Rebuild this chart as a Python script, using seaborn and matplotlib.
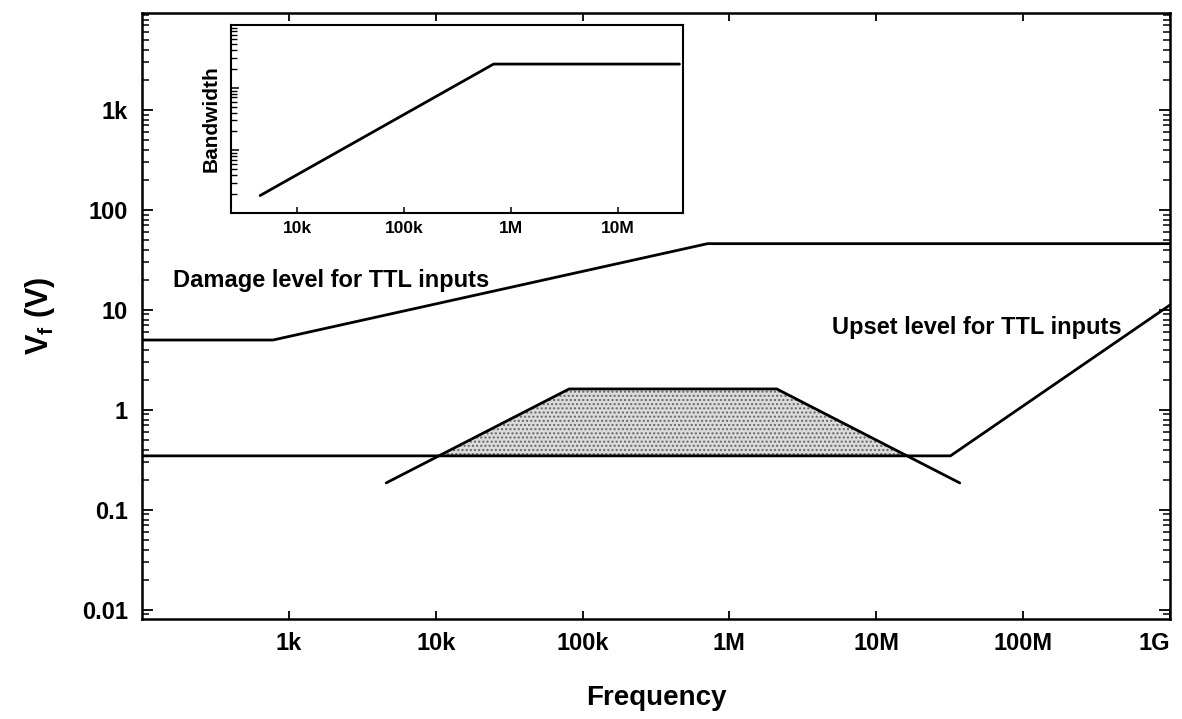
import numpy as np
import seaborn as sns
import matplotlib
matplotlib.use("Agg")
import matplotlib.pyplot as plt
from matplotlib.ticker import FixedLocator, FixedFormatter, LogLocator, NullFormatter, NullLocator

# data (Hz, V)
damage_f = [100, 780, 7.1e5, 1e9]
damage_v = [5.0, 5.0, 46, 46]
upset_f = [100, 3.2e7, 1e9]
upset_v = [0.347, 0.347, 11.2]
spec_f = [4.6e3, 8.1e4, 2.1e6, 3.7e7]
spec_v = [0.186, 1.62, 1.62, 0.186]

# inset: bandwidth vs frequency
bw_f = [4.5e3, 6.9e5, 3.8e7]
bw_v = [1.9, 238, 238]

xticks = [1e3, 1e4, 1e5, 1e6, 1e7, 1e8, 1e9]
xlabels = ["1k", "10k", "100k", "1M", "10M", "100M", "1G"]
yticks = [0.01, 0.1, 1, 10, 100, 1000]
ylabels = ["0.01", "0.1", "1", "10", "100", "1k"]
inset_xticks = [1e4, 1e5, 1e6, 1e7]
inset_xlabels = ["10k", "100k", "1M", "10M"]

sns.set_style("ticks")
plt.rcParams["font.family"] = ["Liberation Sans", "DejaVu Sans"]
plt.rcParams["font.weight"] = "bold"
plt.rcParams["mathtext.fontset"] = "custom"
plt.rcParams["mathtext.rm"] = "Liberation Sans:bold"
plt.rcParams["mathtext.it"] = "Liberation Sans:bold"
plt.rcParams["mathtext.bf"] = "Liberation Sans:bold"
plt.rcParams["hatch.linewidth"] = 1.0
for k in ["text.color", "axes.labelcolor", "xtick.color", "ytick.color", "axes.edgecolor"]:
    plt.rcParams[k] = "black"

W, H = 1182, 719
fig = plt.figure(figsize=(W / 100, H / 100), dpi=100)
ax = fig.add_axes([142 / W, 1 - 619 / H, (1170 - 142) / W, (619 - 13) / H])
ax.set_xscale("log")
ax.set_yscale("log")
ax.set_xlim(100, 1e9)
ax.set_ylim(0.0081, 9330)

# shaded part of the spectrum above the upset level (crossings in log space)
lf, lv = np.log10(spec_f), np.log10(spec_v)
lflat = np.log10(upset_v[0])
xl = 10 ** np.interp(lflat, lv[:2], lf[:2])
xr = 10 ** np.interp(lflat, lv[3:1:-1], lf[3:1:-1])
ax.fill([xl, spec_f[1], spec_f[2], xr], [upset_v[0], spec_v[1], spec_v[2], upset_v[0]],
        facecolor="0.86", edgecolor="0.4", hatch="....", linewidth=0, zorder=1)

for fx, vy in [(damage_f, damage_v), (upset_f, upset_v), (spec_f, spec_v)]:
    sns.lineplot(x=fx, y=vy, ax=ax, color="black", linewidth=2.0,
                 estimator=None, sort=False, zorder=3)

ax.text(173 / W, 1 - 281 / H, "Damage level for TTL inputs", transform=fig.transFigure,
        fontsize=17, fontweight="bold", va="center", ha="left")
ax.text(832 / W, 1 - 328 / H, "Upset level for TTL inputs", transform=fig.transFigure,
        fontsize=17, fontweight="bold", va="center", ha="left")

ax.xaxis.set_major_locator(FixedLocator(xticks))
ax.xaxis.set_major_formatter(FixedFormatter(xlabels))
ax.xaxis.set_minor_locator(NullLocator())
ax.yaxis.set_major_locator(FixedLocator(yticks))
ax.yaxis.set_major_formatter(FixedFormatter(ylabels))
ax.yaxis.set_minor_locator(LogLocator(base=10, subs=np.arange(2, 10)))
ax.yaxis.set_minor_formatter(NullFormatter())
ax.tick_params(axis="x", which="major", direction="in", top=True, bottom=True,
               length=6, width=1.3, labelsize=17, pad=9)
ax.tick_params(axis="y", which="major", direction="in", left=True, right=True,
               length=8, width=1.3, labelsize=17, pad=10)
ax.tick_params(axis="y", which="minor", direction="in", left=True, right=True,
               length=5, width=1.1)
xt = ax.get_xticklabels()
xt[-1].set_ha("right")
for lab in ax.get_xticklabels() + ax.get_yticklabels():
    lab.set_fontweight("bold")
for s in ax.spines.values():
    s.set_linewidth(1.8)
ax.set_xlabel("Frequency", fontsize=20, fontweight="bold", labelpad=22)
ax.set_ylabel(r"V$_{\rm f}$ (V)", fontsize=22, fontweight="bold", labelpad=18)

# inset
axi = fig.add_axes([231 / W, 1 - 213 / H, (683 - 231) / W, (213 - 25) / H])
axi.set_xscale("log")
axi.set_yscale("log")
axi.set_xlim(2.4e3, 4.1e7)
axi.set_ylim(1, 1000)
sns.lineplot(x=bw_f, y=bw_v, ax=axi, color="black", linewidth=2.0,
             estimator=None, sort=False)
axi.xaxis.set_major_locator(FixedLocator(inset_xticks))
axi.xaxis.set_major_formatter(FixedFormatter(inset_xlabels))
axi.xaxis.set_minor_locator(NullLocator())
axi.yaxis.set_major_locator(LogLocator(base=10))
axi.yaxis.set_major_formatter(NullFormatter())
axi.yaxis.set_minor_locator(LogLocator(base=10, subs=np.arange(2, 10)))
axi.yaxis.set_minor_formatter(NullFormatter())
axi.tick_params(axis="x", which="major", direction="in", length=4, width=1.1,
                labelsize=12.5, pad=6)
axi.tick_params(axis="y", which="major", direction="in", left=True, right=False,
                length=6, width=1.1)
axi.tick_params(axis="y", which="minor", direction="in", left=True, right=False,
                length=4, width=1.0)
for lab in axi.get_xticklabels():
    lab.set_fontweight("bold")
for s in axi.spines.values():
    s.set_linewidth(1.5)
axi.set_ylabel("Bandwidth", fontsize=15, fontweight="bold", labelpad=4)

fig.savefig("out.png", dpi=100)
